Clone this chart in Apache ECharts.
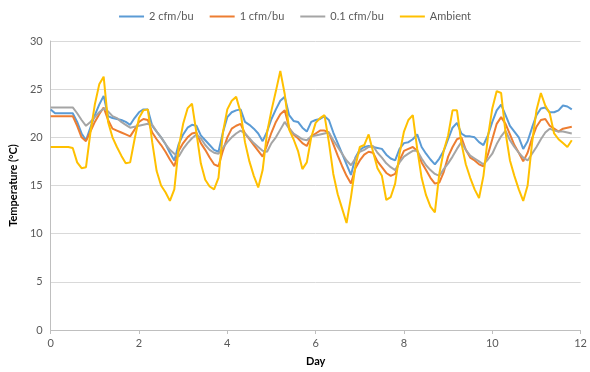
<!DOCTYPE html>
<html>
<head>
<meta charset="utf-8">
<script src="https://cdn.jsdelivr.net/npm/echarts@6/dist/echarts.min.js"></script>
<style>
  html, body { margin: 0; padding: 0; background: #fff; }
  #chart { width: 590px; height: 372px; }
</style>
</head>
<body>
<div id="chart"></div>
<script>
// sampling grid, days (0.1 day steps)
var days = [
  0.0, 0.1, 0.2, 0.3, 0.4, 0.5, 0.6, 0.7, 0.8, 0.9,
  1.0, 1.1, 1.2, 1.3, 1.4, 1.5, 1.6, 1.7, 1.8, 1.9,
  2.0, 2.1, 2.2, 2.3, 2.4, 2.5, 2.6, 2.7, 2.8, 2.9,
  3.0, 3.1, 3.2, 3.3, 3.4, 3.5, 3.6, 3.7, 3.8, 3.9,
  4.0, 4.1, 4.2, 4.3, 4.4, 4.5, 4.6, 4.7, 4.8, 4.9,
  5.0, 5.1, 5.2, 5.3, 5.4, 5.5, 5.6, 5.7, 5.8, 5.9,
  6.0, 6.1, 6.2, 6.3, 6.4, 6.5, 6.6, 6.7, 6.8, 6.9,
  7.0, 7.1, 7.2, 7.3, 7.4, 7.5, 7.6, 7.7, 7.8, 7.9,
  8.0, 8.1, 8.2, 8.3, 8.4, 8.5, 8.6, 8.7, 8.8, 8.9,
  9.0, 9.1, 9.2, 9.3, 9.4, 9.5, 9.6, 9.7, 9.8, 9.9,
  10.0, 10.1, 10.2, 10.3, 10.4, 10.5, 10.6, 10.7, 10.8, 10.9,
  11.0, 11.1, 11.2, 11.3, 11.4, 11.5, 11.6, 11.7, 11.8
];

var cfm2 = [
  22.9, 22.5, 22.5, 22.5, 22.5, 22.5, 21.6, 20.4, 19.7, 21.0,
  22.3, 23.4, 24.3, 22.2, 22.0, 21.9, 21.8, 21.6, 21.3, 22.0,
  22.6, 22.9, 22.9, 21.2, 20.6, 20.0, 19.3, 18.4, 17.6, 19.3,
  20.3, 21.0, 21.3, 21.2, 20.2, 19.7, 19.2, 18.7, 18.5, 20.5,
  22.1, 22.6, 22.8, 22.9, 21.6, 21.3, 20.9, 20.4, 19.6, 20.6,
  21.9, 22.9, 23.8, 24.2, 22.3, 21.7, 21.6, 21.0, 20.6, 21.6,
  21.8, 21.9, 22.2, 21.8, 20.5, 19.4, 18.3, 17.2, 16.1, 17.9,
  18.7, 19.0, 19.1, 19.0, 18.9, 18.8, 18.2, 17.8, 17.6, 18.8,
  19.4, 19.5, 19.8, 20.3, 19.0, 18.3, 17.7, 17.2, 17.8, 18.6,
  19.8, 21.0, 21.5, 20.4, 20.1, 20.1, 20.0, 19.5, 19.2, 20.2,
  21.6, 22.8, 23.4, 22.3, 21.2, 20.6, 20.0, 18.8, 19.6, 21.0,
  22.3, 23.0, 23.1, 22.6, 22.6, 22.8, 23.3, 23.2, 22.9
];

var cfm1 = [
  22.2, 22.2, 22.2, 22.2, 22.2, 22.2, 21.2, 20.0, 19.6, 20.6,
  21.6, 22.4, 23.1, 21.8, 20.9, 20.7, 20.5, 20.3, 20.1, 20.8,
  21.6, 21.9, 21.8, 20.5, 19.8, 19.2, 18.5, 17.7, 17.0, 18.6,
  19.4, 20.0, 20.4, 20.5, 19.4, 18.7, 17.9, 17.2, 17.0, 18.6,
  20.0, 20.9, 21.2, 21.4, 20.4, 19.8, 19.2, 18.6, 18.0, 19.2,
  20.5, 21.6, 22.4, 22.8, 21.0, 20.3, 19.9, 19.4, 19.1, 20.1,
  20.4, 20.7, 20.7, 20.5, 19.3, 18.1, 17.0, 16.0, 15.2, 16.8,
  17.6, 18.2, 18.5, 18.4, 17.5, 16.9, 16.3, 16.0, 16.2, 17.6,
  18.6, 18.8, 19.0, 18.6, 17.4, 16.6, 15.8, 15.2, 15.3, 16.4,
  18.0, 19.0, 19.8, 20.0, 18.7, 17.9, 17.6, 17.2, 17.0, 18.2,
  19.8, 21.4, 22.1, 21.4, 20.3, 19.2, 18.4, 17.5, 18.4, 19.9,
  21.1, 21.8, 21.9, 21.2, 20.9, 20.6, 20.9, 21.0, 21.1
];

var cfm01 = [
  23.1, 23.1, 23.1, 23.1, 23.1, 23.1, 22.5, 21.8, 21.2, 21.6,
  22.1, 22.6, 23.0, 22.7, 22.2, 22.0, 21.6, 21.3, 21.0, 21.1,
  21.2, 21.3, 21.4, 21.3, 20.6, 20.0, 19.3, 18.7, 18.3, 18.0,
  18.8, 19.4, 19.9, 20.3, 19.9, 19.2, 18.7, 18.4, 18.3, 18.9,
  19.5, 20.0, 20.4, 20.7, 20.4, 19.9, 19.4, 19.0, 18.6, 18.5,
  19.4, 20.0, 20.8, 21.6, 20.9, 20.4, 20.1, 19.8, 19.7, 20.1,
  20.2, 20.3, 20.4, 20.5, 19.7, 19.0, 18.3, 17.6, 17.1, 17.8,
  18.5, 18.7, 19.0, 19.1, 18.4, 17.9, 17.3, 16.9, 16.6, 17.4,
  18.0, 18.3, 18.6, 18.6, 17.8, 17.1, 16.6, 16.2, 16.0, 16.7,
  17.3, 18.0, 18.8, 19.5, 18.7, 18.1, 17.8, 17.5, 17.2, 17.7,
  18.3, 19.3, 20.1, 20.7, 19.7, 19.0, 18.4, 17.9, 17.6, 18.3,
  19.0, 19.8, 20.5, 20.9, 20.7, 20.6, 20.6, 20.5, 20.4
];

var ambient = [
  19.0, 19.0, 19.0, 19.0, 19.0, 18.9, 17.4, 16.8, 16.9, 20.5,
  23.4, 25.5, 26.3, 21.6, 20.0, 19.0, 18.1, 17.3, 17.4, 19.8,
  22.0, 22.8, 22.9, 19.5, 16.5, 15.0, 14.3, 13.4, 14.6, 19.0,
  21.4, 23.0, 23.5, 20.5, 17.3, 15.6, 14.9, 14.6, 15.8, 20.5,
  22.9, 23.8, 24.2, 22.6, 19.5, 17.5, 16.0, 14.8, 16.6, 20.5,
  22.8, 24.8, 26.9, 24.5, 20.8, 19.8, 18.6, 16.7, 17.4, 20.0,
  21.5, 22.0, 22.3, 19.5, 16.2, 14.1, 12.6, 11.1, 13.8, 17.0,
  19.0, 19.2, 20.3, 18.5, 16.8, 16.0, 13.5, 13.8, 15.2, 18.3,
  20.6, 21.8, 22.3, 18.8, 15.8, 14.0, 12.8, 12.2, 16.2, 18.6,
  20.2, 22.8, 22.8, 19.4, 17.2, 15.8, 14.6, 13.7, 16.0, 20.0,
  23.0, 24.8, 24.6, 20.5, 17.6, 16.0, 14.6, 13.4, 15.0, 19.4,
  22.8, 24.6, 23.3, 22.5, 20.4, 19.8, 19.4, 19.0, 19.7
];

var seriesNames = ['2 cfm/bu', '1 cfm/bu', '0.1 cfm/bu', 'Ambient'];
var seriesColors = ['#5B9BD5', '#ED7D31', '#A5A5A5', '#FFC000'];
var seriesValues = [cfm2, cfm1, cfm01, ambient];

var font = 'Lato, "Liberation Sans", sans-serif';

function pairs(vals) {
  return days.map(function (d, i) { return [d, vals[i]]; });
}

var chart = echarts.init(document.getElementById('chart'), null, { renderer: 'canvas' });

chart.setOption({
  animation: false,
  backgroundColor: '#fff',
  textStyle: { fontFamily: font },
  legend: {
    top: 6,
    left: 'center',
    itemWidth: 25,
    itemHeight: 2,
    itemGap: 16,
    icon: 'rect',
    textStyle: { color: '#595959', fontSize: 11, fontFamily: font },
    data: seriesNames
  },
  grid: { left: 48, right: 5, top: 41, bottom: 42 },
  xAxis: {
    type: 'value',
    min: 0,
    max: 12,
    interval: 2,
    name: 'Day',
    nameLocation: 'middle',
    nameGap: 26,
    nameTextStyle: { color: '#000', fontWeight: 'bold', fontSize: 11, fontFamily: font },
    axisLine: { show: true, lineStyle: { color: '#BFBFBF', width: 1 } },
    axisTick: { show: true, length: 4, lineStyle: { color: '#BFBFBF' } },
    axisLabel: { color: '#595959', fontSize: 11, margin: 8 },
    splitLine: { show: false }
  },
  yAxis: {
    type: 'value',
    min: 0,
    max: 30,
    interval: 5,
    name: 'Temperature (°C)',
    nameLocation: 'middle',
    nameGap: 28,
    nameTextStyle: { color: '#000', fontWeight: 'bold', fontSize: 11, fontFamily: font },
    axisLine: { show: true, lineStyle: { color: '#BFBFBF', width: 1 } },
    axisTick: { show: false },
    axisLabel: { color: '#595959', fontSize: 11, margin: 8 },
    splitLine: { show: true, lineStyle: { color: '#D9D9D9', width: 1 } }
  },
  series: seriesNames.map(function (name, i) {
    return {
      name: name,
      type: 'line',
      data: pairs(seriesValues[i]),
      showSymbol: false,
      symbol: 'none',
      color: seriesColors[i],
      lineStyle: { width: 2, color: seriesColors[i] },
      z: 2 + i
    };
  })
});
</script>
</body>
</html>
